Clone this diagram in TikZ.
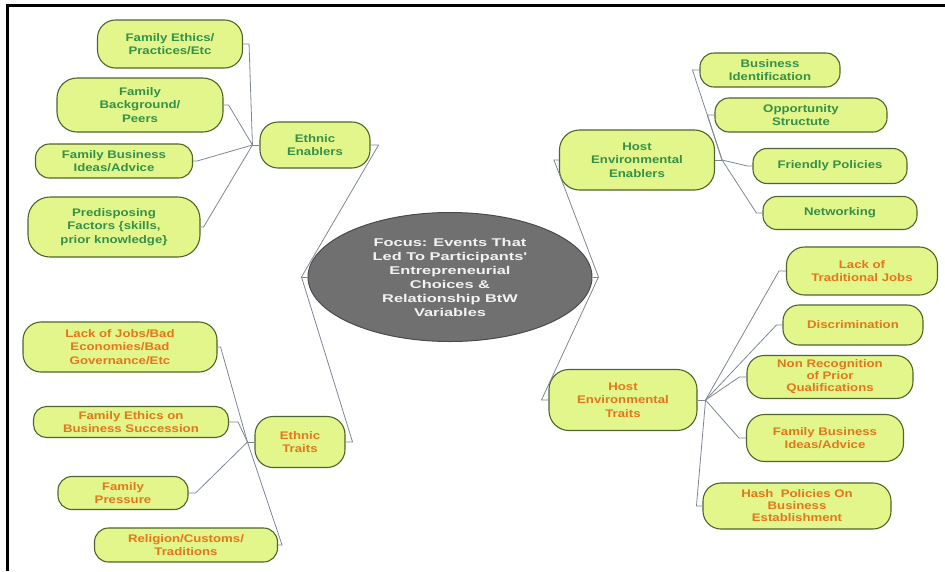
\documentclass[tikz,border=0pt]{standalone}
\usepackage{fontspec}
\newfontfamily\diagb[FakeStretch=1.2]{Liberation Sans Bold}
\newfontfamily\focusb[FakeStretch=1.45]{Liberation Sans Bold}
\usetikzlibrary{shapes.geometric,calc}
\definecolor{leaffill}{RGB}{226,246,140}
\definecolor{leafdraw}{RGB}{80,100,45}
\definecolor{txtgreen}{RGB}{52,145,72}
\definecolor{txtorange}{RGB}{228,118,28}
\definecolor{linkgray}{RGB}{125,135,148}
\definecolor{focusfill}{RGB}{112,112,112}
\definecolor{focusdraw}{RGB}{75,75,75}
\definecolor{focustext}{RGB}{242,242,242}
\begin{document}
\begin{tikzpicture}[x=1pt,y=-1pt,
  leaf/.style={draw=leafdraw, fill=leaffill, line width=1.1pt, rounded corners=#1,
    inner sep=0pt, align=center, font=\diagb\fontsize{11}{13.3}\selectfont},
  leaf/.default=13pt,
  g/.style={text=txtgreen},
  o/.style={text=txtorange},
  link/.style={draw=linkgray, line width=0.8pt}]
\useasboundingbox (0,0) rectangle (945,571);
\draw[line width=3pt] (945,5.5) -- (7.5,5.5) -- (7.5,571);

% central
\node[ellipse, draw=focusdraw, fill=focusfill, line width=1pt, minimum width=284pt,
  minimum height=129pt, inner sep=0pt, align=center, text=focustext,
  font=\focusb\fontsize{11.3}{14}\selectfont] (focus) at (450,277)
  {Focus: Events That\\Led To Participants'\\Entrepreneurial\\Choices \&\\Relationship BtW\\Variables};

% main branches
\node[leaf=18pt,g,minimum width=110pt,minimum height=46pt] (ee) at (315,145) {Ethnic\\Enablers};
\node[leaf=18pt,o,minimum width=90pt,minimum height=51pt] (et) at (300,442) {Ethnic\\Traits};
\node[leaf=20pt,g,minimum width=155pt,minimum height=60pt] (hee) at (637,160) {Host\\Environmental\\Enablers};
\node[leaf=20pt,o,minimum width=148pt,minimum height=61pt] (het) at (623,400) {Host\\Environmental\\Traits};

% ethnic enablers leaves
\node[leaf=18pt,g,minimum width=145pt,minimum height=48pt] (fe) at (170,44) {Family Ethics/\\Practices/Etc};
\node[leaf=20pt,g,minimum width=166pt,minimum height=54pt] (fb) at (140,105) {Family\\Background/\\Peers};
\node[leaf=14pt,g,minimum width=157pt,minimum height=34pt] (fbi) at (114,161) {Family Business\\Ideas/Advice};
\node[leaf=22pt,g,minimum width=172pt,minimum height=60pt] (pf) at (114,227) {Predisposing\\Factors \{skills,\\prior knowledge\}};

% ethnic traits leaves
\node[leaf=18pt,o,minimum width=194pt,minimum height=50pt] (lj) at (120,347) {Lack of Jobs/Bad\\Economies/Bad\\Governance/Etc};
\node[leaf=13pt,o,minimum width=195pt,minimum height=31pt] (feb) at (131,422) {Family Ethics on\\Business Succession};
\node[leaf=14pt,o,minimum width=130pt,minimum height=33pt] (fp) at (123,493) {Family\\Pressure};
\node[leaf=14pt,o,minimum width=183pt,minimum height=34pt] (rc) at (186,545) {Religion/Customs/\\Traditions};

% host environmental enablers leaves
\node[leaf=14pt,g,minimum width=140pt,minimum height=34pt] (bi) at (770,70) {Business\\Identification};
\node[leaf=14pt,g,minimum width=172pt,minimum height=34pt] (os) at (801,115) {Opportunity\\Structute};
\node[leaf=14pt,g,minimum width=154pt,minimum height=35pt] (fpol) at (830,166) {Friendly Policies};
\node[leaf=14pt,g,minimum width=154pt,minimum height=33pt] (nw) at (840,213) {Networking};

% host environmental traits leaves
\node[leaf=18pt,o,minimum width=151pt,minimum height=48pt] (ltj) at (862,271) {Lack of\\Traditional Jobs};
\node[leaf=16pt,o,minimum width=140pt,minimum height=40pt] (dis) at (853,325) {Discrimination};
\node[leaf=17pt,o,minimum width=166pt,minimum height=43pt,font=\diagb\fontsize{11}{12}\selectfont] (nr) at (830,377) {Non Recognition\\of Prior\\Qualifications};
\node[leaf=18pt,o,minimum width=157pt,minimum height=47pt] (fba) at (825,438) {Family Business\\Ideas/Advice};
\node[leaf=18pt,o,minimum width=188pt,minimum height=46pt,font=\diagb\fontsize{11}{12}\selectfont] (hp) at (797,506) {Hash\ \ Policies On\\Business\\Establishment};

% connectors: centre to branches
\draw[link] (focus.west) -- ++(-6pt,0) coordinate (hl);
\draw[link] (hl) -- ([xshift=8pt]ee.east) -- (ee.east);
\draw[link] (hl) -- ([xshift=7pt]et.east) -- (et.east);
\draw[link] (focus.east) -- ++(6pt,0) coordinate (hr);
\draw[link] (hr) -- ([xshift=-5pt]hee.west) -- (hee.west);
\draw[link] (hr) -- ([xshift=-7pt]het.west) -- (het.west);

% ethnic enablers fan
\draw[link] (ee.west) -- ++(-7pt,0) coordinate (hub1);
\draw[link] (fe.east) -- ++(6pt,0) -- (hub1);
\draw[link] (fb.east) -- ++(5pt,0) -- (hub1);
\draw[link] (fbi.east) -- ++(4pt,0) -- (hub1);
\draw[link] (pf.east) -- ++(3pt,0) -- (hub1);

% ethnic traits fan
\draw[link] (et.west) -- ++(-7pt,0) coordinate (hub2);
\draw[link] (lj.east) -- ++(3pt,0) -- (hub2);
\draw[link] (feb.east) -- ++(9pt,0) -- (hub2);
\draw[link] (fp.east) -- ++(7pt,0) -- (hub2);
\draw[link] (rc.east) -- ++(4pt,0) -- (hub2);

% host environmental enablers fan
\draw[link] (hee.east) -- ++(7pt,0) coordinate (hub3);
\draw[link] (bi.west) -- ++(-7pt,0) -- (hub3);
\draw[link] (os.west) -- ++(-7pt,0) -- (hub3);
\draw[link] (fpol.west) -- ++(-5pt,0) -- (hub3);
\draw[link] (nw.west) -- ++(-6pt,0) -- (hub3);

% host environmental traits fan
\draw[link] (het.east) -- ++(8pt,0) coordinate (hub4);
\draw[link] (ltj.west) -- ++(-7pt,0) -- (hub4);
\draw[link] (dis.west) -- ++(-6pt,0) -- (hub4);
\draw[link] (nr.west) -- ++(-7pt,0) -- (hub4);
\draw[link] (fba.west) -- ++(-7pt,0) -- (hub4);
\draw[link] (hp.west) -- ++(-6pt,0) -- (hub4);
\end{tikzpicture}
\end{document}
